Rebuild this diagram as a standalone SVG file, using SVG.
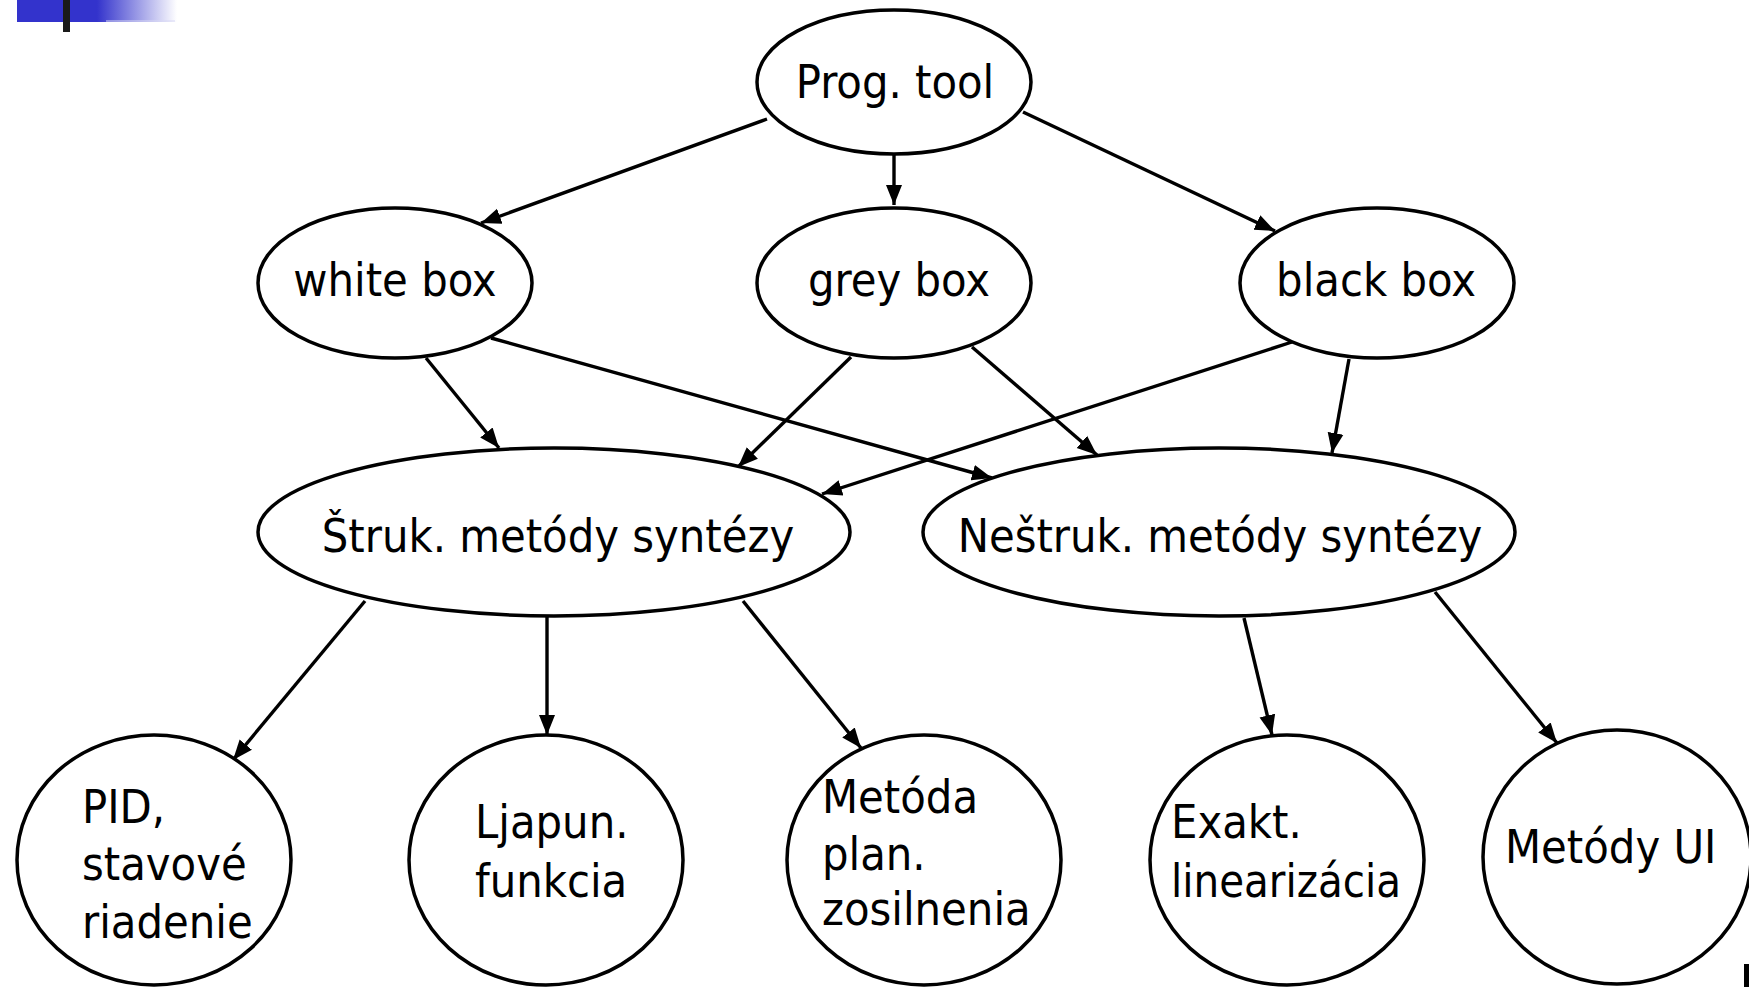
<svg xmlns="http://www.w3.org/2000/svg" width="1749" height="987" viewBox="0 0 1749 987">
<style>
.n{fill:#fff;stroke:#000;stroke-width:3.5}
.t{font-family:"DejaVu Sans Condensed","DejaVu Sans",sans-serif;font-stretch:condensed;font-size:46.5px;fill:#000}
.c{text-anchor:middle}
.e{stroke:#000;stroke-width:3.4;fill:none;marker-end:url(#ah)}
</style>
<defs>
<marker id="ah" markerUnits="userSpaceOnUse" markerWidth="22" markerHeight="18" viewBox="0 0 22 18" refX="20" refY="9" orient="auto">
<path d="M0,1 L20,9 L0,17 Z" fill="#000"/>
</marker>
<linearGradient id="hg" x1="0" y1="0" x2="1" y2="0">
<stop offset="0" stop-color="#3333cc"/>
<stop offset="0.5" stop-color="#3333cc"/>
<stop offset="1" stop-color="#ffffff"/>
</linearGradient>
</defs>
<rect width="1749" height="987" fill="#fff"/>
<g id="header">
<rect x="17" y="0" width="160" height="22" fill="url(#hg)"/>
<line x1="106" y1="21" x2="175" y2="21" stroke="#d8d8f4" stroke-width="1"/>
<rect x="63" y="0" width="7" height="32" fill="#1a1a1a"/>
<rect x="1744" y="964" width="5" height="23" fill="#000"/>
</g>
<g id="connectors">
<line class="e" x1="767" y1="119" x2="481" y2="223"/>
<line class="e" x1="894" y1="155" x2="894" y2="205"/>
<line class="e" x1="1023" y1="112" x2="1275" y2="231"/>
<line class="e" x1="426" y1="358" x2="499" y2="448"/>
<line class="e" x1="491" y1="338" x2="992" y2="478"/>
<line class="e" x1="851" y1="357" x2="738" y2="467"/>
<line class="e" x1="972" y1="347" x2="1097" y2="455"/>
<line class="e" x1="1292" y1="342" x2="822" y2="494"/>
<line class="e" x1="1349" y1="359" x2="1332" y2="453"/>
<line class="e" x1="365" y1="601" x2="233" y2="760"/>
<line class="e" x1="547" y1="617" x2="547" y2="735"/>
<line class="e" x1="743" y1="601" x2="861" y2="748"/>
<line class="e" x1="1244" y1="618" x2="1272" y2="735"/>
<line class="e" x1="1435" y1="592" x2="1557" y2="743"/>
</g>
<g id="prog">
<ellipse class="n" cx="894" cy="82" rx="137" ry="72"/>
<text class="t c" x="895" y="98">Prog. tool</text>
</g>
<g id="white">
<ellipse class="n" cx="395" cy="283" rx="137" ry="75"/>
<text class="t c" x="395" y="296">white box</text>
</g>
<g id="grey">
<ellipse class="n" cx="894" cy="283" rx="137" ry="75"/>
<text class="t c" x="899" y="296">grey box</text>
</g>
<g id="black">
<ellipse class="n" cx="1377" cy="283" rx="137" ry="75"/>
<text class="t c" x="1376" y="296">black box</text>
</g>
<g id="struk">
<ellipse class="n" cx="554" cy="532" rx="296" ry="84"/>
<text class="t c" x="558" y="552">Štruk. metódy syntézy</text>
</g>
<g id="nestruk">
<ellipse class="n" cx="1219" cy="532" rx="296" ry="84"/>
<text class="t c" x="1220" y="552">Neštruk. metódy syntézy</text>
</g>
<g id="pid">
<ellipse class="n" cx="154" cy="860" rx="137" ry="125"/>
<text class="t" x="82" y="823">PID,</text>
<text class="t" x="82" y="880">stavové</text>
<text class="t" x="82" y="938">riadenie</text>
</g>
<g id="ljapun">
<ellipse class="n" cx="546" cy="860" rx="137" ry="125"/>
<text class="t" x="475" y="838">Ljapun.</text>
<text class="t" x="475" y="897">funkcia</text>
</g>
<g id="metoda">
<ellipse class="n" cx="924" cy="860" rx="137" ry="125"/>
<text class="t" x="822" y="813">Metóda</text>
<text class="t" x="822" y="870">plan.</text>
<text class="t" x="822" y="925">zosilnenia</text>
</g>
<g id="exakt">
<ellipse class="n" cx="1287" cy="860" rx="137" ry="125"/>
<text class="t" x="1171" y="838">Exakt.</text>
<text class="t" x="1171" y="897" textLength="230" lengthAdjust="spacingAndGlyphs">linearizácia</text>
</g>
<g id="ui">
<ellipse class="n" cx="1617" cy="857" rx="134" ry="127"/>
<text class="t" x="1505" y="863">Metódy UI</text>
</g>
</svg>
